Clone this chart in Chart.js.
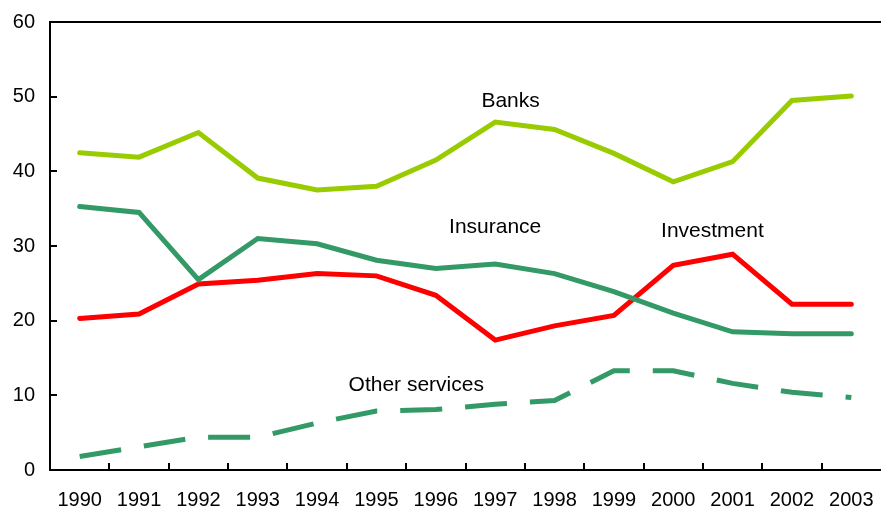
<!DOCTYPE html>
<html>
<head>
<meta charset="utf-8">
<script src="https://cdn.jsdelivr.net/npm/chart.js@4"></script>
<style>
html,body{margin:0;padding:0;background:#fff;}
#wrap{width:881px;height:510px;}
</style>
</head>
<body>
<div id="wrap"><canvas id="c" width="881" height="510"></canvas></div>
<script>
const years = ['1990','1991','1992','1993','1994','1995','1996','1997','1998','1999','2000','2001','2002','2003'];
const banks = [42.5, 41.9, 45.2, 39.1, 37.5, 38.0, 41.5, 46.6, 45.6, 42.4, 38.6, 41.3, 49.5, 50.1];
const insurance = [35.3, 34.5, 25.5, 31.0, 30.3, 28.1, 27.0, 27.6, 26.3, 23.9, 21.0, 18.5, 18.25, 18.25];
const investment = [20.3, 20.9, 24.9, 25.4, 26.3, 26.0, 23.4, 17.4, 19.3, 20.7, 27.4, 28.9, 22.2, 22.2];
const otherServices = [1.8, 3.1, 4.4, 4.4, 6.3, 7.9, 8.1, 8.8, 9.3, 13.3, 13.3, 11.6, 10.4, 9.7];
const yTicks = [0, 10, 20, 30, 40, 50, 60];

// series label annotations: [text, category position, value]
const seriesLabels = [
  ['Banks', 7.26, 49.4],
  ['Insurance', 7.0, 32.5],
  ['Investment', 10.66, 32.0],
  ['Other services', 5.67, 11.4]
];

const FONT = "'Liberation Sans', Arial, sans-serif";

const decorPlugin = {
  id: 'decor',
  afterDatasetsDraw(chart) {
    const ctx = chart.ctx;
    const xs = chart.scales.x, ys = chart.scales.y;
    const a = chart.chartArea;
    ctx.save();
    ctx.strokeStyle = '#000';
    ctx.lineWidth = 2;
    // top border
    ctx.beginPath();
    ctx.moveTo(a.left - 1, a.top);
    ctx.lineTo(a.right, a.top);
    ctx.stroke();
    // x tick marks (inward, between categories)
    ctx.beginPath();
    for (let i = 1; i < years.length; i++) {
      const px = Math.round((xs.getPixelForTick(i - 1) + xs.getPixelForTick(i)) / 2);
      ctx.moveTo(px, a.bottom);
      ctx.lineTo(px, a.bottom - 7);
    }
    // y tick marks (inward)
    yTicks.forEach(v => {
      const py = Math.round(ys.getPixelForValue(v));
      ctx.moveTo(a.left, py);
      ctx.lineTo(a.left + 7, py);
    });
    ctx.stroke();
    // series labels
    ctx.fillStyle = '#000';
    ctx.font = '21px ' + FONT;
    ctx.textAlign = 'center';
    ctx.textBaseline = 'middle';
    seriesLabels.forEach(([t, xi, yv]) => {
      ctx.fillText(t, xs.getPixelForValue(xi), ys.getPixelForValue(yv));
    });
    ctx.restore();
  }
};

new Chart(document.getElementById('c'), {
  type: 'line',
  data: {
    labels: years,
    datasets: [
      { label: 'Banks', data: banks, borderColor: '#99CC00', borderWidth: 5, borderCapStyle: 'round', borderJoinStyle: 'miter', pointRadius: 0, tension: 0, fill: false },
      { label: 'Insurance', data: insurance, borderColor: '#339966', borderWidth: 5, borderCapStyle: 'round', borderJoinStyle: 'miter', pointRadius: 0, tension: 0, fill: false },
      { label: 'Investment', data: investment, borderColor: '#FF0000', borderWidth: 5, borderCapStyle: 'round', borderJoinStyle: 'miter', pointRadius: 0, tension: 0, fill: false },
      { label: 'Other services', data: otherServices, borderColor: '#339966', borderWidth: 5, borderDash: [42, 23], borderCapStyle: 'butt', borderJoinStyle: 'miter', pointRadius: 0, tension: 0, fill: false }
    ]
  },
  options: {
    responsive: false,
    animation: false,
    devicePixelRatio: 1,
    layout: { padding: { top: 22, right: 0, left: 0, bottom: 0 } },
    plugins: { legend: { display: false }, tooltip: { enabled: false } },
    scales: {
      x: {
        type: 'category',
        offset: true,
        grid: { display: false, drawTicks: false },
        border: { display: true, color: '#000', width: 2 },
        ticks: { color: '#000', font: { family: FONT, size: 20 }, padding: 18, maxRotation: 0, autoSkip: false },
        afterFit(s) { s.height = 40; s.paddingLeft = 0; s.paddingRight = 0; }
      },
      y: {
        min: 0, max: 60,
        afterBuildTicks(s) { s.ticks = yTicks.map(v => ({ value: v })); },
        grid: { display: false, drawTicks: false },
        border: { display: true, color: '#000', width: 2 },
        ticks: { color: '#000', font: { family: FONT, size: 20 }, padding: 15 },
        afterFit(s) { s.width = 50; s.paddingTop = 0; s.paddingBottom = 0; }
      }
    }
  },
  plugins: [decorPlugin]
});
</script>
</body>
</html>
